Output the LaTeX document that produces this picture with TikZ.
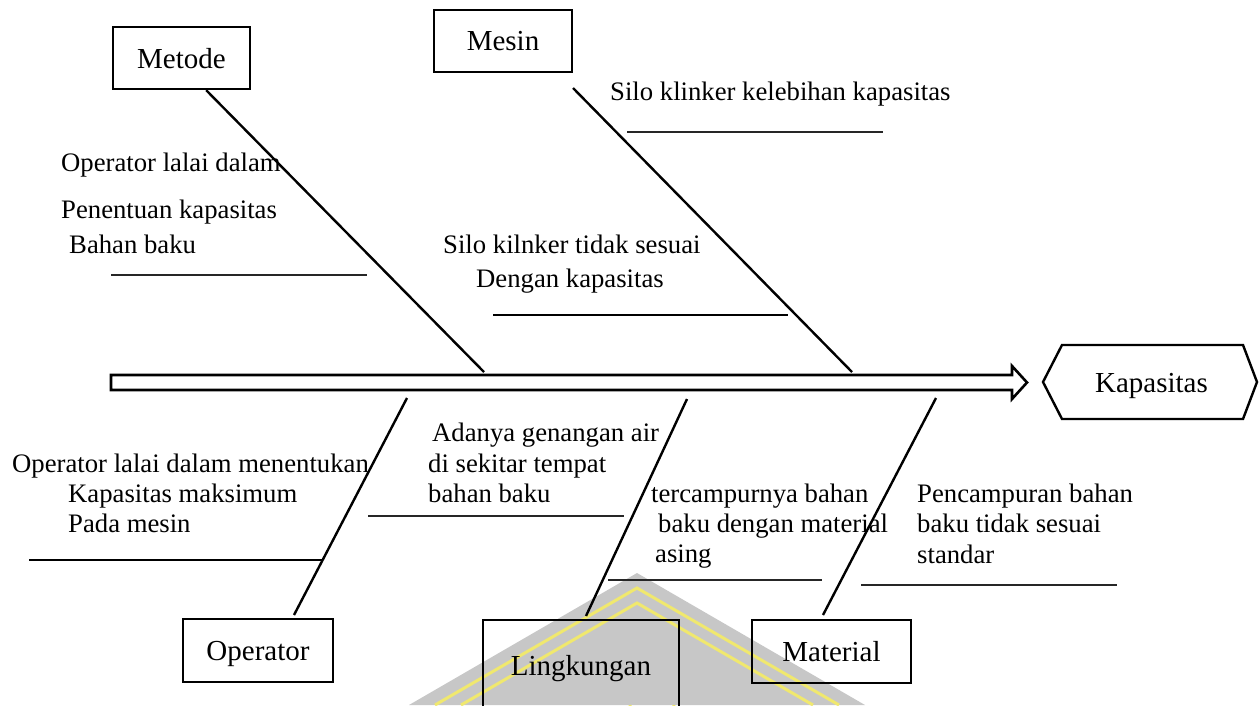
\documentclass[tikz,border=0pt]{standalone}
\usepackage{fontspec}
\setmainfont{Liberation Serif}
\usetikzlibrary{calc}
\definecolor{crestyellow}{RGB}{240,232,110}
\tikzset{
  cause/.style={anchor=base west, inner sep=0pt, font=\fontsize{26.7}{30}\selectfont},
  catbox/.style={draw, line width=2.4pt, font=\fontsize{29}{32}\selectfont,
                 text depth=0pt, inner sep=0pt},
  bone/.style={line width=2.4pt},
  twig/.style={line width=1.4pt, black!85},
  spine/.style={line width=2.6pt, line join=miter},
  crest/.style={crestyellow, line width=3pt},
}
\begin{document}
\begin{tikzpicture}[x=1pt,y=-1pt]
\useasboundingbox (0,0) rectangle (1259,705);

% faint crest in the lower middle
\fill[black!22] (637,573) -- (865,705) -- (409,705) -- cycle;
\draw[crest] (435,705) -- (637,588) -- (839,705);
\draw[crest] (461,705) -- (637,603) -- (813,705);
\draw[crest] (630,705) arc[start angle=180, end angle=0, radius=22];

% category boxes
\node[catbox, minimum width=137pt, minimum height=62pt] (met) at (181.5,58) {Metode};
\node[catbox, minimum width=138pt, minimum height=62pt] (mes) at (503,41) {Mesin};
\node[catbox, minimum width=150pt, minimum height=63pt] (opr) at (258,650.5) {Operator};
\node[catbox, minimum width=196pt, minimum height=90pt] (lin) at (581,665) {Lingkungan};
\node[catbox, minimum width=159pt, minimum height=63pt] (mat) at (831.5,651.5) {Material};

% effect
\node[inner sep=0pt, text depth=0pt, font=\fontsize{29}{32}\selectfont] (kap) at (1151.5,383) {Kapasitas};
\draw[line width=2.4pt, line join=miter] (1043,382) -- (1062,345) -- (1243,345) -- (1257,382)
  -- (1243,419) -- (1062,419) -- cycle;

% hollow spine arrow
\draw[spine] (111,375) -- (1012,375) -- (1012,366) -- (1027,382.5) -- (1012,399)
  -- (1012,390) -- (111,390) -- cycle;

% bones
\coordinate (metJ) at (484,372);
\coordinate (mesT) at (573,88);
\coordinate (mesJ) at (852,372);
\coordinate (oprJ) at (407,398);
\coordinate (oprB) at (294,615);
\coordinate (linJ) at (687,399);
\coordinate (linB) at (586,616);
\coordinate (matJ) at (936,398);
\coordinate (matB) at (823,615);
\draw[bone] ([xshift=-45pt]met.south east) -- (metJ);
\draw[bone] (mesT) -- (mesJ);
\draw[bone] (oprJ) -- (oprB);
\draw[bone] (linJ) -- (linB);
\draw[bone] (matJ) -- (matB);

% cause lines
\draw[twig] (111,275) -- (367,275);
\draw[twig] (627,132) -- (883,132);
\draw[bone, line width=2pt] (493,315) -- (788,315);
\draw[bone] (29,560) -- (322,560);
\draw[twig] (368,516) -- (624,516);
\draw[twig] (608,580) -- (822,580);
\draw[twig] (861,585) -- (1117,585);

% causes
\node[cause] (c1a) at (61,171) {Operator lalai dalam};
\node[cause] (c1b) at (61,218) {Penentuan kapasitas};
\node[cause] (c1c) at (69,253) {Bahan baku};
\node[cause] (c2a) at (610,100) {Silo klinker kelebihan kapasitas};
\node[cause] (c3a) at (443,253) {Silo kilnker tidak sesuai};
\node[cause] (c3b) at (476,287) {Dengan kapasitas};
\node[cause] (c4a) at (12,472) {Operator lalai dalam menentukan};
\node[cause] (c4b) at (68,502) {Kapasitas maksimum};
\node[cause] (c4c) at (68,532) {Pada mesin};
\node[cause] (c5a) at (432,441) {Adanya genangan air};
\node[cause] (c5b) at (428,472) {di sekitar tempat};
\node[cause] (c5c) at (428,502) {bahan baku};
\node[cause] (c6a) at (651,502) {tercampurnya bahan};
\node[cause] (c6b) at (658,532) {baku dengan material};
\node[cause] (c6c) at (655,562) {asing};
\node[cause] (c7a) at (917,502) {Pencampuran bahan};
\node[cause] (c7b) at (917,532) {baku tidak sesuai};
\node[cause] (c7c) at (917,563) {standar};
\end{tikzpicture}
\end{document}
